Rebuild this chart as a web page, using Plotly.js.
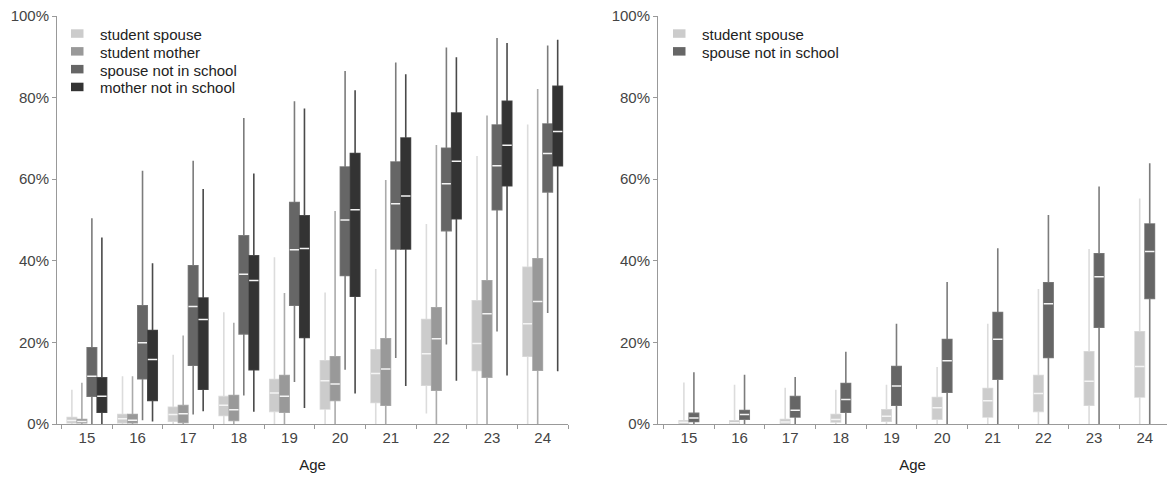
<!DOCTYPE html>
<html><head><meta charset="utf-8">
<script src="https://cdn.plot.ly/plotly-3.0.1.min.js"></script>
<style>
html,body{margin:0;padding:0;background:#fff;overflow:hidden;width:1167px;height:480px}
#left{position:absolute;left:0;top:0;width:583px;height:480px}
#right{position:absolute;left:583px;top:0;width:584px;height:480px}
</style>
</head><body>
<div id="left"></div><div id="right"></div>
<script>
// ---------- DATA (percent) ----------
const ages = ['15','16','17','18','19','20','21','22','23','24'];
const yTicks = [0, 20, 40, 60, 80, 100];
const yTickLabels = ['0%', '20%', '40%', '60%', '80%', '100%'];

// Left panel
const names4 = ['student spouse','student mother','spouse not in school','mother not in school'];
const ssLo  = [0,0,0,0,0,0,0,2.6,0,0];
const ssQ1  = [0.3,0.3,0.7,2.1,3.1,3.7,5.3,9.5,13.1,16.6];
const ssMed = [0.85,1.3,2.3,4.6,7.6,10.6,12.4,17.2,19.7,24.6];
const ssQ3  = [1.6,2.3,4.1,6.7,10.9,15.5,18.2,25.6,30.2,38.4];
const ssHi  = [8.4,11.7,17.0,27.4,40.9,32.2,38.0,49.0,65.7,73.4];

const smLo  = [0,0,0,0,0,0,0,0,0,0];
const smQ1  = [0.3,0.3,0.4,0.9,2.9,5.8,4.6,8.3,11.5,13.2];
const smMed = [0.6,0.9,2.5,3.5,6.8,9.8,13.5,20.9,27.0,30.0];
const smQ3  = [1.1,2.3,4.5,7.0,11.9,16.5,20.9,28.5,35.1,40.5];
const smHi  = [10.1,11.7,21.7,24.8,32.1,52.2,59.8,68.4,75.6,82.1];

const snLo  = [0,0.9,2.3,7.0,10.3,13.3,16.2,19.5,22.7,27.2];
const snQ1  = [6.8,11.1,14.4,22.1,29.1,36.4,42.9,47.4,52.5,56.9];
const snMed = [11.7,19.9,28.8,36.7,42.7,50.0,54.0,58.9,63.3,66.3];
const snQ3  = [18.7,29.0,38.8,46.1,54.3,63.0,64.2,67.6,73.3,73.5];
const snHi  = [50.4,62.1,64.5,75.0,79.1,86.5,88.6,92.3,94.6,92.8];

const mnLo  = [0,0.6,3.1,3.0,3.9,7.5,9.3,10.6,11.9,12.9];
const mnQ1  = [2.9,5.8,8.5,13.3,21.2,31.3,42.9,50.3,58.4,63.3];
const mnMed = [6.8,15.8,25.6,35.2,43.0,52.5,55.9,64.4,68.3,71.7];
const mnQ3  = [11.3,22.9,30.9,41.2,51.0,66.3,70.1,76.2,79.1,82.8];
const mnHi  = [45.7,39.4,57.6,61.4,77.3,81.8,85.7,89.9,93.4,94.2];

// Right panel
const names2 = ['student spouse','spouse not in school'];
const rsLo  = [0,0,0,0,0,0,0,0,0,0];
const rsQ1  = [0.1,0.1,0.1,0.5,0.7,1.2,1.7,3.1,4.6,6.6];
const rsMed = [0.4,0.3,0.5,1.1,1.9,4.0,5.7,7.5,10.5,14.1];
const rsQ3  = [0.8,0.8,1.1,2.3,3.5,6.5,8.7,11.9,17.7,22.6];
const rsHi  = [10.2,9.6,8.9,8.4,9.6,14.0,24.6,33.1,42.9,55.3];

const rnLo  = [0,0,0,0,0,0,0,0,0,0];
const rnQ1  = [0.6,1.2,1.7,2.9,4.6,7.8,11.0,16.3,23.7,30.8];
const rnMed = [1.5,2.3,3.4,6.0,9.3,15.5,20.8,29.5,36.1,42.3];
const rnQ3  = [2.6,3.3,6.7,9.9,14.1,20.7,27.3,34.6,41.7,49.0];
const rnHi  = [12.7,12.1,11.5,17.7,24.6,34.8,43.1,51.2,58.2,63.9];

// ---------- STYLE ----------
const FONT = 'Liberation Sans, Arial, Helvetica, sans-serif';
const fills    = {ss:'#cccccc', sm:'#999999', sn:'#666666', mn:'#333333'};
const whiskers = {ss:'#dcdcdc', sm:'#ababab', sn:'#7c7c7c', mn:'#4a4a4a'};
const MEDIAN = '#f4f4f4';

function series(key, lo, q1, med, q3, hi) {
  const common = {type:'box', x:ages, offsetgroup:key, alignmentgroup:'a',
    whiskerwidth:0, boxpoints:false, showlegend:false, hoverinfo:'skip'};
  return [
    Object.assign({}, common, {q1:q1, median:med, q3:q3, lowerfence:lo, upperfence:hi,
      line:{color:whiskers[key], width:1.6}, fillcolor:fills[key]}),
    Object.assign({}, common, {q1:q1, median:med, q3:q3, lowerfence:q1, upperfence:q3,
      line:{color:fills[key], width:0}, fillcolor:fills[key]}),
    Object.assign({}, common, {q1:med, median:med, q3:med, lowerfence:med, upperfence:med,
      line:{color:MEDIAN, width:1.5}, fillcolor:MEDIAN})
  ];
}

function makeLayout(m, W, xr, boxgap, legendKeys, legendNames, legX) {
  const H = 480 - m.t - m.b;
  const px = v => (v - m.l) / W;
  const py = v => (480 - m.b - v) / H;
  const shapes = [], annotations = [];
  legendKeys.forEach((k, i) => {
    const top = 29.3 + 17.8 * i;
    shapes.push({type:'rect', xref:'paper', yref:'paper', x0:px(legX), x1:px(legX + 12.5),
      y0:py(top + 8.5), y1:py(top), fillcolor:fills[k], line:{width:0}});
    annotations.push({xref:'paper', yref:'paper', x:px(legX + 27), y:py(top + 5.2),
      xanchor:'left', yanchor:'middle', showarrow:false, text:legendNames[i],
      font:{family:FONT, size:15, color:'#222'}});
  });
  return {
    width: m.w, height: 480, margin:{l:m.l, r:m.r, t:m.t, b:m.b, pad:0},
    paper_bgcolor:'#fff', plot_bgcolor:'#fff', showlegend:false, hovermode:false,
    boxmode:'group', boxgap:boxgap, boxgroupgap:0.06,
    font:{family:FONT, size:15, color:'#444'},
    xaxis:{type:'category', range:xr, tickson:'boundaries', ticks:'outside', ticklen:4,
      tickcolor:'#999', showline:true, linecolor:'#999', linewidth:1, showgrid:false,
      zeroline:false, tickfont:{family:FONT, size:15, color:'#444'},
      title:{text:'Age', font:{family:FONT, size:15, color:'#222'}, standoff:14}, automargin:false},
    yaxis:{range:[0,100], tickmode:'array', tickvals:yTicks, ticktext:yTickLabels,
      ticks:'outside', ticklen:4,
      tickcolor:'#999', showline:true, linecolor:'#999', linewidth:1, showgrid:false,
      zeroline:false, tickfont:{family:FONT, size:15, color:'#444'}, automargin:false},
    shapes:shapes, annotations:annotations
  };
}

const leftData = [].concat(
  series('ss', ssLo, ssQ1, ssMed, ssQ3, ssHi),
  series('sm', smLo, smQ1, smMed, smQ3, smHi),
  series('sn', snLo, snQ1, snMed, snQ3, snHi),
  series('mn', mnLo, mnQ1, mnMed, mnQ3, mnHi));
const rightData = [].concat(
  series('ss', rsLo, rsQ1, rsMed, rsQ3, rsHi),
  series('sn', rnLo, rnQ1, rnMed, rnQ3, rnHi));

const mL = {w:583, l:57, r:15, t:16, b:56};
const mR = {w:584, l:75, r:0, t:16, b:56};
Plotly.newPlot('left', leftData,
  makeLayout(mL, 583-57-15, [-0.59, 9.5], 0.21, ['ss','sm','sn','mn'], names4, 71),
  {staticPlot:true, displayModeBar:false});
Plotly.newPlot('right', rightData,
  makeLayout(mR, 584-75, [-0.61, 9.44], 0.605, ['ss','sn'], names2, 673-583),
  {staticPlot:true, displayModeBar:false});
</script>
</body></html>
